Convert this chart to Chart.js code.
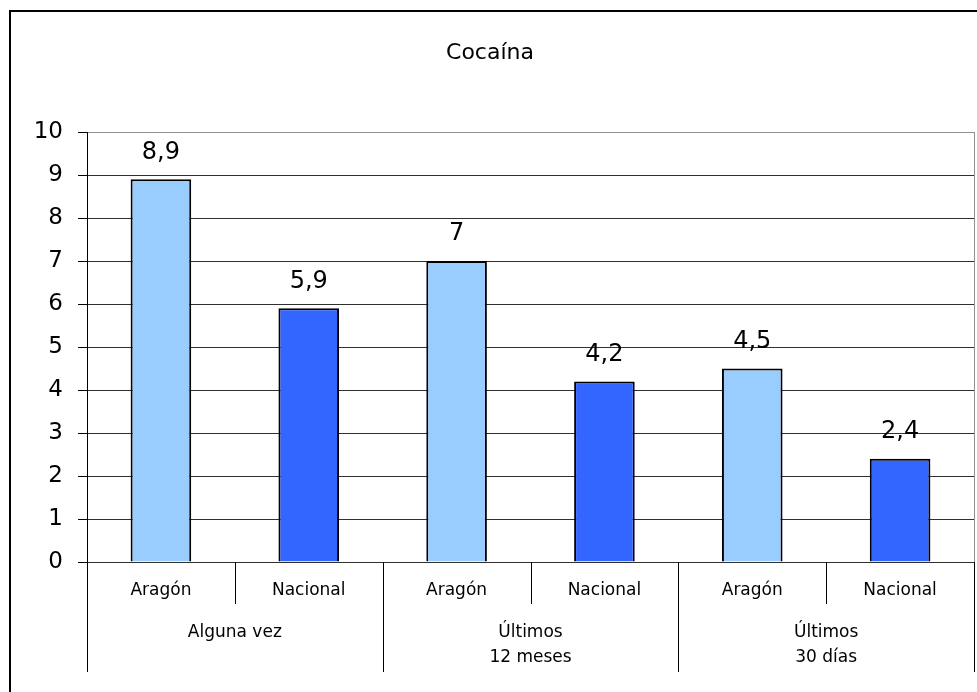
<!DOCTYPE html>
<html>
<head>
<meta charset="utf-8">
<script src="https://cdn.jsdelivr.net/npm/chart.js@4"></script>
<style>
  html, body { margin: 0; padding: 0; background: #fff; }
  #wrap { width: 977px; height: 692px; position: relative; }
</style>
</head>
<body>
<div id="wrap"><canvas id="c"></canvas></div>
<script>
// Prevalence of cocaine use (%), Aragón vs. national average
const regions = ['Aragón', 'Nacional', 'Aragón', 'Nacional', 'Aragón', 'Nacional'];
const periods = [['Alguna vez'], ['Últimos', '12 meses'], ['Últimos', '30 días']];
const values = [8.9, 5.9, 7, 4.2, 4.5, 2.4];
const barColors = ['#99CCFF', '#3366FF', '#99CCFF', '#3366FF', '#99CCFF', '#3366FF'];
const yTicks = [0, 1, 2, 3, 4, 5, 6, 7, 8, 9, 10];
const titleText = 'Cocaína';

const FONT = "'DejaVu Sans', sans-serif";

// Frame, title and the plot's right edge
const framePlugin = {
  id: 'frame',
  beforeDraw(chart) {
    const ctx = chart.ctx;
    ctx.save();
    ctx.strokeStyle = '#000';
    ctx.lineWidth = 2;
    ctx.beginPath();
    ctx.moveTo(10, 692);
    ctx.lineTo(10, 11);
    ctx.lineTo(977, 11);
    ctx.stroke();
    ctx.fillStyle = '#000';
    ctx.font = '22px ' + FONT;
    ctx.textAlign = 'center';
    ctx.textBaseline = 'middle';
    ctx.fillText(titleText, 490, 53);
    ctx.restore();
  },
  afterDraw(chart) {
    const a = chart.chartArea;
    const ctx = chart.ctx;
    ctx.save();
    ctx.strokeStyle = '#909090';
    ctx.lineWidth = 1;
    ctx.beginPath();
    ctx.moveTo(Math.round(a.right) + 0.5, a.top);
    ctx.lineTo(Math.round(a.right) + 0.5, a.bottom);
    ctx.stroke();
    ctx.restore();
  }
};

// Two-level category axis: region under each bar, period under each pair
const groupAxisPlugin = {
  id: 'groupAxis',
  afterDraw(chart) {
    const x = chart.scales.x;
    const ctx = chart.ctx;
    const n = regions.length;
    const step = (x.right - x.left) / n;
    const base = chart.chartArea.bottom;
    ctx.save();
    ctx.strokeStyle = '#000';
    ctx.lineWidth = 1;
    for (let i = 0; i <= n; i++) {
      const px = Math.round(x.left + i * step) + 0.5;
      const len = (i % 2 === 0) ? 110 : 42;
      ctx.beginPath();
      ctx.moveTo(px, base);
      ctx.lineTo(px, base + len);
      ctx.stroke();
    }
    ctx.fillStyle = '#000';
    ctx.textAlign = 'center';
    ctx.textBaseline = 'middle';
    ctx.font = '17px ' + FONT;
    regions.forEach((r, i) => {
      ctx.fillText(r, x.getPixelForValue(i), base + 29);
    });
    periods.forEach((lines, g) => {
      const cx = (x.getPixelForValue(2 * g) + x.getPixelForValue(2 * g + 1)) / 2;
      lines.forEach((t, k) => ctx.fillText(t, cx, base + 71 + k * 25));
    });
    ctx.restore();
  }
};

// Value above each bar
const valueLabelPlugin = {
  id: 'valueLabels',
  afterDatasetsDraw(chart) {
    const ctx = chart.ctx;
    const meta = chart.getDatasetMeta(0);
    ctx.save();
    ctx.fillStyle = '#000';
    ctx.font = '24px ' + FONT;
    ctx.textAlign = 'center';
    ctx.textBaseline = 'middle';
    meta.data.forEach((bar, i) => {
      ctx.fillText(String(values[i]).replace('.', ','), bar.x, bar.y - 27);
    });
    ctx.restore();
  }
};

new Chart(document.getElementById('c'), {
  type: 'bar',
  data: {
    labels: regions,
    datasets: [{
      data: values,
      backgroundColor: barColors,
      borderColor: '#000',
      borderWidth: 2,
      barPercentage: 0.41,
      categoryPercentage: 1
    }]
  },
  options: {
    responsive: true,
    maintainAspectRatio: false,
    animation: false,
    layout: { padding: { top: 132, bottom: 130, right: 3, left: 0 } },
    plugins: {
      legend: { display: false },
      title: { display: false },
      tooltip: { enabled: false }
    },
    scales: {
      x: {
        display: false
      },
      y: {
        min: 0,
        max: 10,
        afterFit(s) { s.width = 87; },
        afterBuildTicks(s) { s.ticks = yTicks.map(v => ({ value: v })); },
        border: { display: true, color: '#000', width: 1 },
        grid: {
          color: c => (c.tick && c.tick.value === 10) ? '#909090' : '#303030',
          lineWidth: 1,
          tickLength: 9,
          tickColor: '#000'
        },
        ticks: {
          padding: 15,
          color: '#000',
          font: { family: FONT, size: 23 }
        }
      }
    }
  },
  plugins: [framePlugin, groupAxisPlugin, valueLabelPlugin]
});
</script>
</body>
</html>
